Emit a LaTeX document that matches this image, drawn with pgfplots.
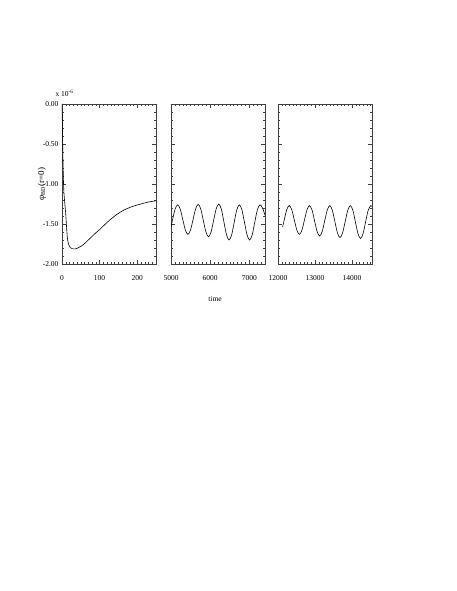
\documentclass[border=0pt]{standalone}
\usepackage{fontspec}
\setmainfont{Liberation Serif}
\usepackage{pgfplots}
\pgfplotsset{compat=1.18}

\pgfplotsset{
  panel/.style={
    scale only axis, width=94pt, height=160pt, anchor=south west,
    ymin=-2, ymax=0,
    tick align=inside, xtick pos=both, ytick pos=both,
    xticklabel pos=lower,
    major tick length=4pt, minor tick length=2pt,
    every tick/.style={black!75, line width=0.35pt},
    axis line style={black!75, line width=0.5pt},
    tick label style={font=\fontsize{7.5}{9}\selectfont},
    xticklabel style={yshift=-8pt},
    scaled x ticks=false,
    /pgf/number format/assume math mode=true,
    /pgf/number format/set thousands separator={},
    ytick={-2,-1.5,-1,-0.5,0},
    minor ytick={-2,-1.9,...,0},
    every axis plot/.append style={black, line width=0.6pt, no markers},
  }
}

\begin{document}
\begin{tikzpicture}
\path[use as bounding box] (0,0) rectangle (457pt,591pt);

% panel 1: start-up
\begin{axis}[panel, at={(62pt,327pt)},
    xmin=0, xmax=250, xtick={0,100,200},
    minor xtick={0,10,...,250},
    yticklabels={-2.00,-1.50,-1.00,-0.50,0.00}]
\addplot[smooth] coordinates {
 (0,0) (1,-0.25) (2,-0.55) (3,-0.8) (4,-0.98) (5,-1.1) (7,-1.22) (9,-1.32)
 (11,-1.45) (13,-1.6) (15,-1.7) (18,-1.76) (22,-1.795) (28,-1.81) (35,-1.812)
 (42,-1.80) (50,-1.78) (60,-1.745) (70,-1.70) (80,-1.655) (90,-1.61)
 (100,-1.57) (120,-1.48) (143,-1.39) (165,-1.325) (188,-1.28) (210,-1.25)
 (230,-1.225) (250,-1.21)};
\end{axis}

% panel 2
\begin{axis}[panel, at={(171pt,327pt)},
    xmin=5000, xmax=7400, xtick={5000,6000,7000},
    minor xtick={5000,5100,...,7400},
    yticklabels={}]
\addplot[smooth] coordinates {
 (5000,-1.54) (5040,-1.445) (5105,-1.314) (5170,-1.26)
 (5236,-1.314) (5301,-1.445) (5367,-1.576) (5432,-1.63)
 (5498,-1.575) (5564,-1.443) (5629,-1.31) (5695,-1.255)
 (5761,-1.314) (5826,-1.458) (5892,-1.601) (5957,-1.66)
 (6023,-1.60) (6088,-1.455) (6154,-1.31) (6220,-1.25)
 (6286,-1.316) (6351,-1.475) (6417,-1.634) (6482,-1.70)
 (6548,-1.636) (6613,-1.48) (6679,-1.324) (6745,-1.26)
 (6811,-1.324) (6876,-1.48) (6942,-1.636) (7007,-1.70)
 (7073,-1.636) (7138,-1.48) (7204,-1.324) (7270,-1.26)
 (7336,-1.30) (7400,-1.39)};
\end{axis}

% panel 3
\begin{axis}[panel, at={(278pt,327pt)},
    xmin=12000, xmax=14540, xtick={12000,13000,14000},
    minor xtick={12000,12100,...,14500},
    yticklabels={}]
\addplot[smooth] coordinates {
 (12125,-1.535) (12168,-1.45) (12236,-1.32) (12305,-1.27)
 (12373,-1.323) (12441,-1.45) (12510,-1.577) (12578,-1.63)
 (12646,-1.577) (12715,-1.45) (12783,-1.323) (12851,-1.27)
 (12920,-1.326) (12988,-1.46) (13057,-1.594) (13125,-1.65)
 (13194,-1.594) (13262,-1.46) (13331,-1.326) (13400,-1.27)
 (13469,-1.329) (13537,-1.47) (13606,-1.611) (13675,-1.67)
 (13745,-1.611) (13815,-1.47) (13885,-1.329) (13955,-1.27)
 (14024,-1.33) (14092,-1.475) (14161,-1.62) (14230,-1.68)
 (14299,-1.62) (14367,-1.475) (14436,-1.33) (14505,-1.27)
 (14540,-1.28)};
\end{axis}

\node[anchor=west, font=\fontsize{7.5}{9}\selectfont] at (52pt,498pt) {x 10\textsuperscript{-6}};
\node[rotate=90, font=\fontsize{9}{10}\selectfont] at (42pt,407pt) {φ\textsubscript{BD}(r=0)};
\node[font=\fontsize{7.5}{9}\selectfont] at (215pt,292pt) {time};
\end{tikzpicture}
\end{document}
